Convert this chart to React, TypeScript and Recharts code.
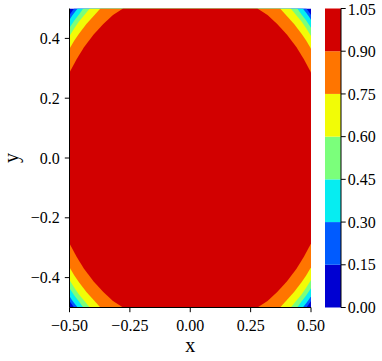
import React from "react";
import { ComposedChart, BarChart, Area, Bar, XAxis, YAxis } from "recharts";

// contour levels and the jet colour of each filled band between them
const levels = [0, 0.15, 0.3, 0.45, 0.6, 0.75, 0.9, 1.05];
const bandColors = ["#0000d2", "#005bff", "#06edf1", "#7bff7b", "#f2fc06", "#ff7500", "#d20000"];

const xTicks = [-0.5, -0.25, 0, 0.25, 0.5];
const yTicks = [-0.4, -0.2, 0, 0.2, 0.4];
const extent = [-0.5, 0.5];

// upper-left corner: where each level's region {f >= level} ends (x, y)
const edge15X = [-0.481, -0.49, -0.5];
const edge15Y = [0.5, 0.49, 0.478];
const edge30X = [-0.466, -0.48, -0.49, -0.5];
const edge30Y = [0.5, 0.486, 0.475, 0.462];
const edge45X = [-0.443, -0.46, -0.48, -0.5];
const edge45Y = [0.5, 0.481, 0.46, 0.436];
const edge60X = [-0.416, -0.44, -0.46, -0.48, -0.5];
const edge60Y = [0.5, 0.477, 0.457, 0.434, 0.408];
const edge75X = [-0.372, -0.4, -0.43, -0.46, -0.48, -0.5];
const edge75Y = [0.5, 0.475, 0.448, 0.416, 0.393, 0.365];
const edge90X = [-0.278, -0.32, -0.36, -0.4, -0.44, -0.47, -0.5];
const edge90Y = [0.5, 0.478, 0.448, 0.413, 0.37, 0.331, 0.286];

const edges = [
  [edge15X, edge15Y],
  [edge30X, edge30Y],
  [edge45X, edge45Y],
  [edge60X, edge60Y],
  [edge75X, edge75Y],
  [edge90X, edge90Y],
];

// region is symmetric in both axes: mirror the corner edge to the right side and downwards
function regionData(xs: number[], ys: number[]) {
  const left = xs.map((x, i) => ({ x, r: [-ys[i], ys[i]] })).reverse();
  const right = xs.map((x, i) => ({ x: -x, r: [-ys[i], ys[i]] }));
  return [...left, ...right];
}

const background = [
  { x: extent[0], r: [extent[0], extent[1]] },
  { x: extent[1], r: [extent[0], extent[1]] },
];

const cbRow: Record<string, number | string> = { name: "cb" };
bandColors.forEach((_, i) => {
  cbRow["b" + i] = +(levels[i + 1] - levels[i]).toFixed(2);
});
const cbData = [cbRow];

const font = "Liberation Serif";
const tickStyle = { fontSize: 16, fill: "#000", fontFamily: font };
const minus = (v: number, d: number) => v.toFixed(d).replace("-", "\u2212");

export default function App() {
  return (
    <div style={{ position: "absolute", left: 0, top: 0, width: 382, height: 361, background: "#fff" }}>
      <div style={{ position: "absolute", left: 0, top: 0 }}>
        <ComposedChart width={382} height={361} margin={{ top: 8.5, right: 71, bottom: 3.5, left: 9.5 }}>
          <XAxis
            dataKey="x"
            type="number"
            domain={extent}
            ticks={xTicks}
            allowDataOverflow
            height={50}
            tick={tickStyle}
            tickSize={4.7}
            tickMargin={7}
            tickFormatter={(v) => minus(v, 2)}
            stroke="#000"
            label={{ value: "x", position: "insideBottom", offset: 6, style: { fontSize: 20, fill: "#000", fontFamily: font } }}
          />
          <YAxis
            dataKey="r"
            type="number"
            domain={extent}
            ticks={yTicks}
            allowDataOverflow
            width={60}
            tick={tickStyle}
            tickSize={4.7}
            tickMargin={5}
            tickFormatter={(v) => minus(v, 1)}
            stroke="#000"
            label={{
              content: () => (
                <text x={13} y={158} transform="rotate(-90 13 158)" textAnchor="middle" dominantBaseline="middle" fontSize={20} fontFamily={font} fill="#000">
                  y
                </text>
              ),
            }}
          />
          <XAxis xAxisId="top" orientation="top" type="number" domain={extent} height={0} tick={false} tickLine={false} stroke="#000" />
          <YAxis yAxisId="right" orientation="right" type="number" domain={extent} width={0} tick={false} tickLine={false} stroke="#000" />
          <Area data={background} dataKey="r" type="linear" fill={bandColors[0]} fillOpacity={1} stroke="none" isAnimationActive={false} />
          {edges.map(([xs, ys], i) => (
            <Area
              key={i}
              data={regionData(xs, ys)}
              dataKey="r"
              type="linear"
              fill={bandColors[i + 1]}
              fillOpacity={1}
              stroke="none"
              isAnimationActive={false}
            />
          ))}
        </ComposedChart>
      </div>
      <div style={{ position: "absolute", left: 0, top: 0 }}>
        <BarChart width={382} height={361} data={cbData} barCategoryGap={0} margin={{ top: 8.5, right: 0, bottom: 53.5, left: 325 }}>
          <XAxis dataKey="name" height={0} tick={false} tickLine={false} stroke="#000" />
          <XAxis xAxisId="top" orientation="top" dataKey="name" height={0} tick={false} tickLine={false} stroke="#000" />
          <YAxis yAxisId="left" orientation="left" width={0} domain={[levels[0], levels[levels.length - 1]]} tick={false} tickLine={false} stroke="#000" />
          <YAxis
            orientation="right"
            width={41}
            domain={[levels[0], levels[levels.length - 1]]}
            ticks={levels}
            tick={tickStyle}
            tickSize={4.7}
            tickMargin={2}
            tickFormatter={(v) => v.toFixed(2)}
            stroke="#000"
          />
          {bandColors.map((c, i) => (
            <Bar key={i} dataKey={"b" + i} stackId="cb" fill={c} isAnimationActive={false} />
          ))}
        </BarChart>
      </div>
    </div>
  );
}
